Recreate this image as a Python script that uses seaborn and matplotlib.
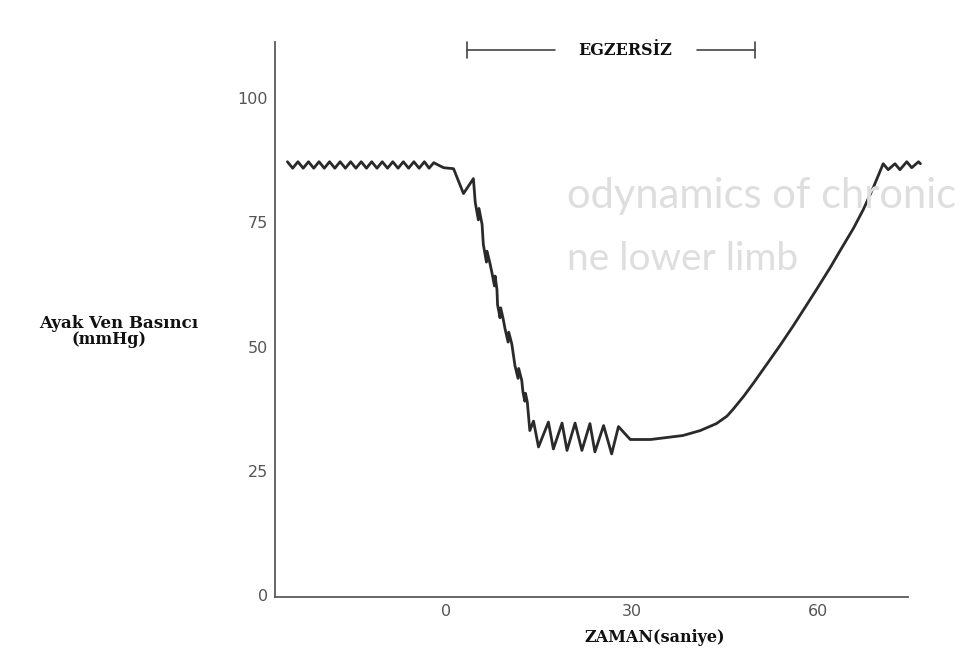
import matplotlib
matplotlib.use("Agg")
import matplotlib.pyplot as plt
import seaborn as sns
import pandas as pd

# ---- data ----
time_s = [
    -25.6, -24.75, -23.9, -23.05, -22.2, -21.35, -20.5, -19.65, -18.8, -17.95,
    -17.1, -16.25, -15.4, -14.55, -13.7, -12.85, -12.0, -11.15, -10.3, -9.45,
    -8.6, -7.75, -6.9, -6.05, -5.2, -4.35, -3.5, -2.75, -2.0,
    -0.4, 1.2, 2.8, 4.4,
    4.7, 5.2, 5.3, 5.8, 6.0, 6.5, 6.6, 7.1, 7.4, 7.8, 7.9, 8.2,
    8.3, 8.7, 8.8, 9.2, 9.5, 10.0, 10.1, 10.6, 11.1, 11.6, 11.7, 12.2,
    12.4, 12.7, 12.8, 13.1, 13.5,
    14.1, 14.9, 16.5, 17.3, 18.7, 19.5, 20.8, 21.9, 23.2, 24.0, 25.4, 26.7, 27.8,
    29.7, 33.0, 35.6, 38.2, 41.0, 43.6, 45.3, 46.3, 48.0, 49.6, 51.7, 53.9,
    56.0, 57.7, 59.8, 62.0, 63.5, 65.7, 67.3, 68.9,
    70.5, 71.3, 72.4, 73.2, 74.3, 75.1, 76.2, 76.5,
]
pressure = [
    87.2, 85.9, 87.2, 85.9, 87.2, 85.9, 87.2, 85.9, 87.2, 85.9,
    87.2, 85.9, 87.2, 85.9, 87.2, 85.9, 87.2, 85.9, 87.2, 85.9,
    87.2, 85.9, 87.2, 85.9, 87.2, 85.9, 87.2, 85.9, 87.0,
    86.0, 85.8, 80.8, 83.8,
    79.0, 75.5, 77.8, 74.6, 70.6, 67.0, 69.2, 66.6, 64.8, 62.2, 64.2, 61.5,
    58.4, 55.8, 57.8, 55.6, 53.6, 50.9, 52.9, 50.5, 46.2, 43.6, 45.6, 43.2,
    40.8, 39.0, 40.6, 38.8, 33.1,
    35.0, 29.8, 34.8, 29.4, 34.6, 29.1, 34.6, 29.1, 34.5, 28.8, 34.1, 28.4, 33.9,
    31.3, 31.3, 31.7, 32.1, 33.1, 34.5, 36.0, 37.4, 40.0, 42.7, 46.4, 50.3,
    54.2, 57.5, 61.6, 66.0, 69.2, 73.8, 77.6, 82.0,
    86.8, 85.6, 86.8, 85.6, 87.2, 86.0, 87.2, 86.8,
]
x_ticks = [0, 30, 60]
y_ticks = [0, 25, 50, 75, 100]
exercise_start, exercise_end = 3.3, 49.8

df = pd.DataFrame({"ZAMAN": time_s, "Basinc": pressure})

sns.set_style("white")
plt.rcParams["font.family"] = ["DejaVu Sans"]

W, H = 969, 654
fig = plt.figure(figsize=(W / 100, H / 100), dpi=100)
ax = fig.add_axes([275 / W, 1 - 597 / H, (908 - 275) / W, (597 - 42) / H])

sns.lineplot(data=df, x="ZAMAN", y="Basinc", sort=False, estimator=None,
             color="#2a2a2a", linewidth=2.0, ax=ax, clip_on=False, zorder=3)

ax.set_xlim(-27.6, 74.5)
ax.set_ylim(-0.4, 111.3)
ax.set_xticks(x_ticks)
ax.set_yticks(y_ticks)
ax.set_xlabel("")
ax.set_ylabel("")
for s in ["top", "right"]:
    ax.spines[s].set_visible(False)
for s in ["left", "bottom"]:
    ax.spines[s].set_color("#5a5a5a")
    ax.spines[s].set_linewidth(1.3)
ax.tick_params(axis="y", direction="in", length=19, width=1.3, color="#5a5a5a",
               labelcolor="#555555", labelsize=11.5, pad=5)
ax.tick_params(axis="x", direction="in", length=11, width=1.3, color="#5a5a5a",
               labelcolor="#555555", labelsize=11.5, pad=5)

# exercise bracket
by = 109.6
ax.plot([exercise_start, 17.6], [by, by], color="#444444", lw=1.2, clip_on=False)
ax.plot([40.5, exercise_end], [by, by], color="#444444", lw=1.2, clip_on=False)
ax.plot([exercise_start, exercise_start], [by - 1.6, by + 1.6], color="#444444", lw=1.2, clip_on=False)
ax.plot([exercise_end, exercise_end], [by - 1.6, by + 1.6], color="#444444", lw=1.2, clip_on=False)
ax.text(28.9, by, "EGZERSİZ", ha="center", va="center", fontsize=11.5,
        fontweight="bold", family="DejaVu Serif", color="#111111")

# faint show-through text from the scanned page
fig.text(567 / W, 1 - 208 / H, "odynamics of chronic", fontsize=30, color="#dedede",
         family="Lato", ha="left", va="baseline", zorder=0)
fig.text(567 / W, 1 - 270 / H, "ne lower limb", fontsize=28, color="#dedede",
         family="Lato", ha="left", va="baseline", zorder=0)

# labels
fig.text(119 / W, 1 - 323 / H, "Ayak Ven Basıncı", ha="center", va="center",
         fontsize=12, fontweight="bold", family="DejaVu Serif", color="#111111")
fig.text(109 / W, 1 - 340 / H, "(mmHg)", ha="center", va="center",
         fontsize=11.5, fontweight="bold", family="DejaVu Serif", color="#111111")
fig.text(655 / W, 1 - 638 / H, "ZAMAN(saniye)", ha="center", va="center",
         fontsize=11.5, fontweight="bold", family="DejaVu Serif", color="#111111")

fig.savefig("out.png", dpi=100, facecolor="white")
